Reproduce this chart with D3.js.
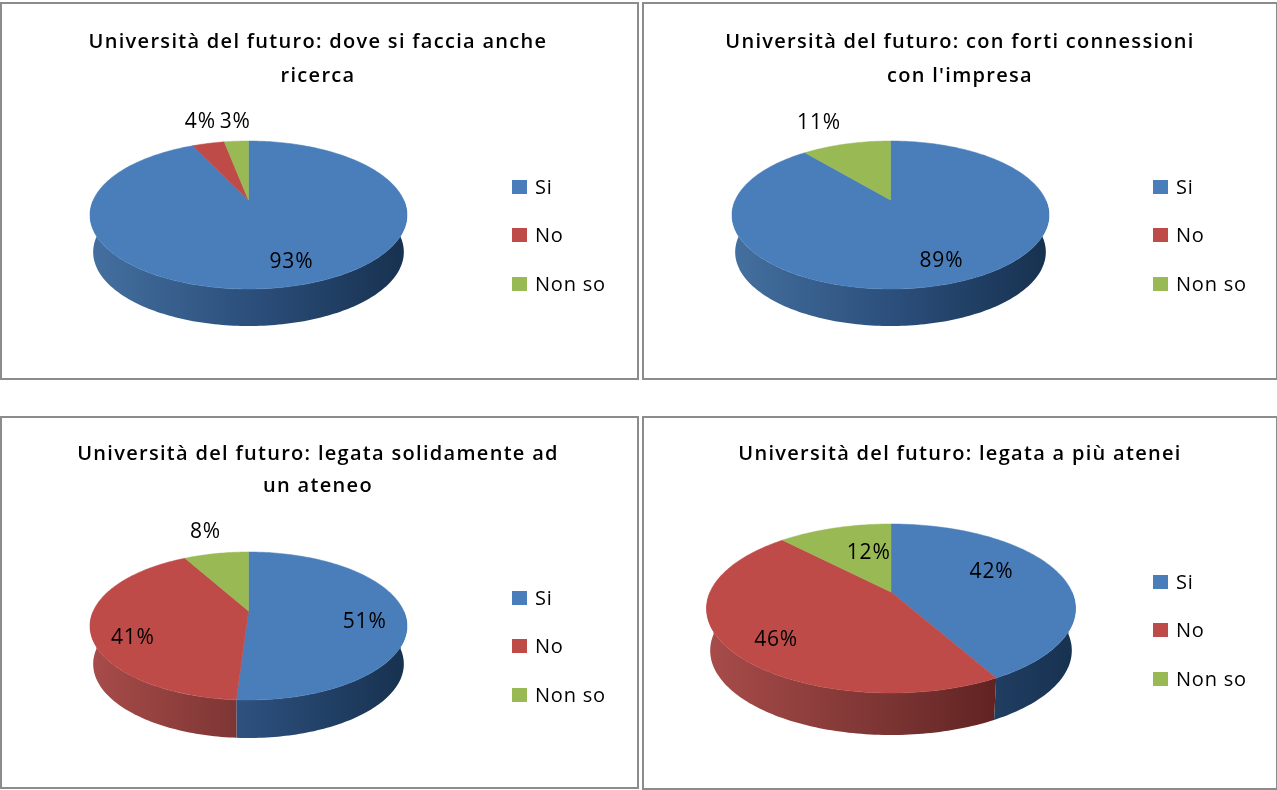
<!DOCTYPE html>
<html lang="it">
<head>
  <meta charset="UTF-8" />
  <title>Università del futuro</title>
  <script src="https://d3js.org/d3.v7.min.js"></script>
  <style>
    body { margin: 0; background: #fff; }
    svg { display: block; }
    text { font-family: "Open Sans", sans-serif; fill: #000; filter: url(#soft); }
    .title { font-size: 20px; font-weight: 600; letter-spacing: 1.3px; text-anchor: middle; }
    .pct { font-size: 21px; letter-spacing: 0.8px; text-anchor: middle; }
    .leg { font-size: 20px; letter-spacing: 0.8px; }
  </style>
</head>
<body>
  <svg id="chart" width="1277" height="790"></svg>

  <script>
    const categories = ["Si", "No", "Non so"];
    const titles = [
      ["Università del futuro: dove si faccia anche", "ricerca"],
      ["Università del futuro: con forti connessioni", "con l'impresa"],
      ["Università del futuro: legata solidamente ad", "un ateneo"],
      ["Università del futuro: legata a più atenei"]
    ];
    const values1 = [93, 4, 3];
    const values2 = [89, 0, 11];
    const values3 = [51, 41, 8];
    const values4 = [42, 46, 12];
    const allValues = [values1, values2, values3, values4];

    // layout of every panel: frame, pie ellipse (top/apex/bottom/half width), depth of the wall
    const panels = [
      { x: 1, y: 3, w: 637, h: 376, cx: 248.5, top: 141, apex: 200, bot: 289, hw: 158.5, depth: 37, titleY: [41, 75], legY: [187, 235, 284], legX: 512 },
      { x: 643, y: 3, w: 634, h: 376, cx: 890.5, top: 141, apex: 200, bot: 289, hw: 158.5, depth: 37, titleY: [41, 75], legY: [187, 235, 284], legX: 1153 },
      { x: 1, y: 417, w: 637, h: 371, cx: 248.5, top: 552, apex: 611, bot: 700, hw: 158.5, depth: 38, titleY: [453, 485], legY: [598, 646, 695], legX: 512 },
      { x: 643, y: 417, w: 634, h: 372, cx: 891, top: 524, apex: 592, bot: 693, hw: 184.5, depth: 42, titleY: [453], legY: [582, 630, 679], legX: 1153 }
    ];
    // where each percentage sits: radius on the pie and a small nudge
    const labelSpots = [
      [[0.62, 19, 12], [1.12, -4, -17], [1.12, 0, -14]],
      [[0.62, 14, 13], null, [1.12, -23, -16]],
      [[0.72, 4, 8], [0.72, -3, 14], [1.14, -7, -16]],
      [[0.62, -5, -9], [0.72, 0, 10], [0.68, 18, 6]]
    ];

    const color = d3.scaleOrdinal().domain(categories).range(["#4a7ebb", "#be4b48", "#98b954"]);
    const wallStops = {
      "Si": ["#44709f", "#2c4f7c", "#17314f"],
      "No": ["#a84c4a", "#7a3432", "#4e1616"],
      "Non so": ["#7d9848", "#647a39", "#4c5c2b"]
    };

    const svg = d3.select("#chart");
    const defs = svg.append("defs");
    defs.append("filter").attr("id", "soft")
      .attr("x", "-5%").attr("y", "-20%").attr("width", "110%").attr("height", "140%")
      .append("feGaussianBlur").attr("stdDeviation", 0.4);
    const pie = d3.pie().sort(null).value(d => d);
    const line = d3.line();

    // perspective of a flat disc: the far half is squeezed, the apex is not the ellipse centre
    function makeProject(p) {
      const up = p.apex - p.top, down = p.bot - p.apex;
      const k = (down - up) / (down + up);
      const h = up * (1 + k);
      const rx = p.hw * Math.sqrt(1 - k * k);
      return (a, r = 1) => {
        const u = r * Math.sin(a), v = r * Math.cos(a), w = 1 + k * v;
        return [p.cx + rx * u / w, p.apex - h * v / w];
      };
    }

    function arcPoints(project, a0, a1) {
      const n = Math.max(2, Math.ceil((a1 - a0) / 0.02));
      return d3.range(n + 1).map(i => project(a0 + (a1 - a0) * i / n));
    }

    panels.forEach((p, pi) => {
      const g = svg.append("g");
      const project = makeProject(p);
      const arcs = pie(allValues[pi]);

      g.append("rect")
        .attr("x", p.x).attr("y", p.y).attr("width", p.w).attr("height", p.h)
        .attr("fill", "#fff").attr("stroke", "#8c8c8c").attr("stroke-width", 2);

      titles[pi].forEach((t, i) => {
        g.append("text").attr("class", "title")
          .attr("x", p.x + 317).attr("y", p.titleY[i] + 7).text(t);
      });

      // wall, front half only
      const wallId = "wall" + pi;
      categories.forEach((c, ci) => {
        const grad = defs.append("linearGradient").attr("id", wallId + ci)
          .attr("gradientUnits", "userSpaceOnUse")
          .attr("x1", p.cx - p.hw).attr("x2", p.cx + p.hw).attr("y1", 0).attr("y2", 0);
        wallStops[c].forEach((s, i) => grad.append("stop").attr("offset", i / 2).attr("stop-color", s));
      });
      arcs.forEach((d, i) => {
        const a0 = Math.max(d.startAngle, Math.PI / 2), a1 = Math.min(d.endAngle, Math.PI * 1.5);
        if (a1 <= a0) return;
        const upper = arcPoints(project, a0, a1);
        const lower = upper.map(q => [p.cx + (q[0] - p.cx) * 0.98, q[1] + p.depth]).reverse();
        g.append("path").attr("d", line(upper.concat(lower)) + "Z")
          .attr("fill", `url(#${wallId}${i})`);
      });

      // top of the pie
      arcs.forEach((d, i) => {
        if (d.value === 0) return;
        const pts = [[p.cx, p.apex]].concat(arcPoints(project, d.startAngle, d.endAngle));
        g.append("path").attr("d", line(pts) + "Z")
          .attr("fill", color(categories[i]))
          .attr("stroke", color(categories[i])).attr("stroke-width", 0.5);
      });

      // percentages
      arcs.forEach((d, i) => {
        const spot = labelSpots[pi][i];
        if (!spot) return;
        const q = project((d.startAngle + d.endAngle) / 2, spot[0]);
        g.append("text").attr("class", "pct")
          .attr("x", q[0] + spot[1]).attr("y", q[1] + spot[2] + 7)
          .text(d.value + "%");
      });

      // legend
      categories.forEach((c, i) => {
        g.append("rect")
          .attr("x", p.legX).attr("y", p.legY[i] - 7).attr("width", 15).attr("height", 14)
          .attr("fill", color(c));
        g.append("text").attr("class", "leg")
          .attr("x", p.legX + 23).attr("y", p.legY[i] + 7).text(c);
      });
    });
  </script>
</body>
</html>
